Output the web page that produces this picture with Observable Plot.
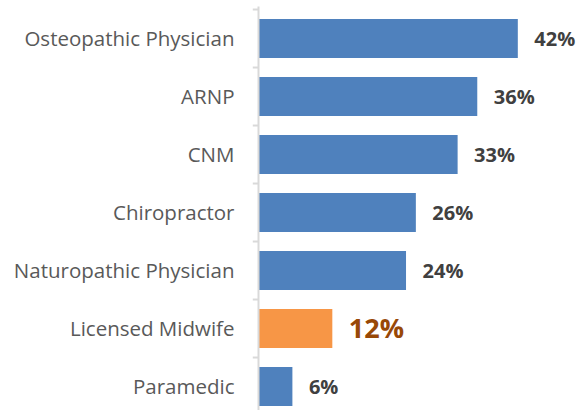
<!DOCTYPE html>
<html>
<head>
<meta charset="utf-8">
<script src="https://cdn.jsdelivr.net/npm/d3@7"></script>
<script src="https://cdn.jsdelivr.net/npm/@observablehq/plot@0.6"></script>
<style>
  html, body { margin: 0; padding: 0; background: #fff; overflow: hidden; }
  #chart svg { display: block; }
</style>
</head>
<body>
<div id="chart"></div>
<script>
const categories = ["Osteopathic Physician", "ARNP", "CNM", "Chiropractor", "Naturopathic Physician", "Licensed Midwife", "Paramedic"];
const values = [42.3, 35.7, 32.5, 25.7, 24.1, 12.1, 5.6];
const labels = ["42%", "36%", "33%", "26%", "24%", "12%", "6%"];
const highlight = "Licensed Midwife";

const data = categories.map((c, i) => ({category: c, value: values[i], label: labels[i], hi: c === highlight}));
const normal = data.filter(d => !d.hi);
const special = data.filter(d => d.hi);

const chartH = 420, mTop = 6.5, mBottom = 1;
const step = (chartH - mTop - mBottom) / categories.length;

const chart = Plot.plot({
  width: 578,
  height: chartH,
  marginLeft: 258,
  marginRight: 0,
  marginTop: mTop,
  marginBottom: mBottom,
  style: {fontFamily: "'Open Sans', sans-serif", background: "#fff"},
  x: {domain: [0, 52.1], axis: null},
  y: {domain: categories, paddingInner: 0.333, paddingOuter: 0.1667, label: null},
  marks: [
    Plot.barX(data, {y: "category", x: "value", fill: d => d.hi ? "#F79646" : "#4F81BD"}),
    Plot.ruleX([0], {stroke: "#D9D9D9", strokeWidth: 2}),
    Plot.ruleY(categories, {y: d => d, x1: -0.85, x2: 0, dy: -step / 2, stroke: "#D9D9D9", strokeWidth: 2}),
    Plot.axisY({tickSize: 0, tickPadding: 24, fontSize: 20.5, fill: "#595959", label: null}),
    Plot.text(normal, {y: "category", x: "value", text: "label", dx: 16, textAnchor: "start", fontSize: 20, fontWeight: "bold", fill: "#404040", dy: 1}),
    Plot.text(special, {y: "category", x: "value", text: "label", dx: 16, textAnchor: "start", fontSize: 27, fontWeight: "bold", fill: "#984807"})
  ]
});
document.getElementById("chart").appendChild(chart);
</script>
</body>
</html>
